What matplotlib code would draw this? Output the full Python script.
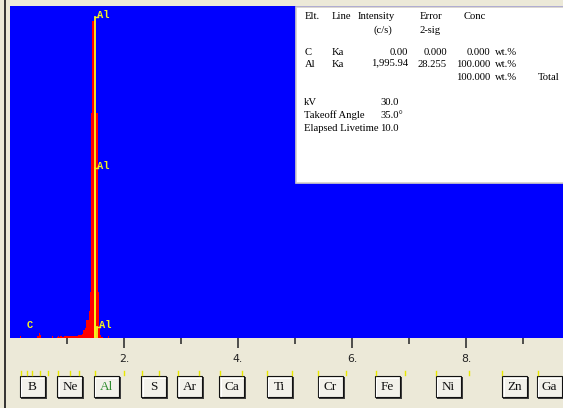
import numpy as np
import matplotlib
matplotlib.use("Agg")
import matplotlib.pyplot as plt
from matplotlib.patches import Rectangle
from matplotlib.transforms import blended_transform_factory

# spectrum channels (left edge, keV) and counts
energy = [0.18, 0.48, 0.50, 0.52, 0.74,
          0.82, 0.84, 0.86, 0.88, 0.90, 0.92, 0.94, 0.96, 0.98, 1.00,
          1.02, 1.04, 1.06, 1.08, 1.10, 1.12, 1.14, 1.16, 1.18, 1.20,
          1.22, 1.24, 1.26, 1.28, 1.30, 1.32, 1.34, 1.36, 1.38, 1.40,
          1.42, 1.44, 1.46, 1.48, 1.50, 1.52, 1.54, 1.56, 1.58, 1.60,
          1.62, 1.72]
counts = [6, 6, 15, 9, 6,
          4, 5, 4, 5, 5, 4, 5, 5, 6, 5,
          5, 6, 5, 6, 6, 5, 6, 7, 6, 8,
          9, 9, 12, 24, 24, 30, 54, 54, 80, 139,
          678, 955, 955, 955, 678, 678, 139, 30, 9, 4,
          3, 6]

# element markers
marker_keV = [1.486, 1.486, 1.52, 0.245]
marker_h = [967, 512, 33, 33]
marker_lbl = ["Al", "Al", "Al", "C"]

# result table
table_head = [("Elt.", 305, 19), ("Line", 332, 19), ("Intensity", 358, 19),
              ("Error", 420, 19), ("Conc", 464, 19),
              ("(c/s)", 373, 33), ("2-sig", 420, 33)]
rows = [["C", "Ka", "0.00", "0.000", "0.000", "wt.%", ""],
        ["Al", "Ka", "1,995.94", "28.255", "100.000", "wt.%", ""],
        ["", "", "", "", "100.000", "wt.%", "Total"]]
cond_names = ["kV", "Takeoff Angle", "Elapsed Livetime"]
cond_vals = ["30.0", "35.0\u00b0", "10.0"]

# periodic-table buttons and line ticks
buttons = ["B", "Ne", "Al", "S", "Ar", "Ca", "Ti", "Cr", "Fe", "Ni", "Zn", "Ga"]
button_keV = [0.40, 1.06, 1.70, 2.53, 3.16, 3.90, 4.73, 5.63, 6.63, 7.70, 8.86, 9.47]
line_keV = [0.19, 0.30, 0.39, 0.53, 0.67, 0.84, 1.05, 1.21, 1.49, 2.00, 2.32,
            2.61, 2.95, 3.32, 3.68, 4.07, 4.51, 4.95, 5.40, 5.89, 6.42, 6.93,
            7.47, 8.05, 8.63, 9.26]

W, H = 563, 408
bg = "#ECE9D8"
fig = plt.figure(figsize=(W / 100, H / 100), dpi=100, facecolor=bg)

ax = fig.add_axes([10 / W, (H - 338) / H, 553 / W, 332 / H], facecolor="#0000FF")
ax.bar(energy, counts, width=0.02, align="edge", color="#FF0000", linewidth=0)
ax.set_xlim(0, 553 / 57)
ax.set_ylim(0, 1000)
for s in ax.spines.values():
    s.set_visible(False)
ax.set_yticks([])
ax.set_xticks([2, 4, 6, 8])
ax.set_xticklabels(["2.", "4.", "6.", "8."])
ax.set_xticks([1, 3, 5, 7, 9], minor=True)
ax.tick_params(axis="x", which="major", length=7.5, width=1.2, color="#333333",
               pad=4, labelsize=7.8, labelcolor="#222222")
ax.tick_params(axis="x", which="minor", length=4.5, width=1.2, color="#333333")

yel = "#F4F420"
for e, h, lb in zip(marker_keV, marker_h, marker_lbl):
    if lb == "Al":
        ax.plot([e, e], [0, h], color=yel, lw=1.3, zorder=3)
        ax.plot([e, e + 0.06], [h, h], color=yel, lw=1.0, zorder=3)
    ax.text(e + 0.04, h + 5, lb, color=yel, fontsize=7.5, family="Liberation Mono",
            weight="bold", va="center", ha="left", zorder=4)

# overlay in pixel coordinates
ov = fig.add_axes([0, 0, 1, 1], zorder=5)
ov.set_xlim(0, W)
ov.set_ylim(H, 0)
ov.axis("off")
ov.patch.set_alpha(0)

ov.plot([5, 5], [0, H], color="#333333", lw=1.4)
ov.add_patch(Rectangle((296, 7), 270, 176, facecolor="white", edgecolor="#D4D0C8", lw=1.2))

tf = dict(family="Liberation Serif", fontsize=7.7, color="black", va="baseline")
for t, x, y in table_head:
    ov.text(x, y, t, ha="left", **tf)
col_x = [305, 332, 408, 447, 490, 495, 538]
col_ha = ["left", "left", "right", "right", "right", "left", "left"]
for r, y in zip(rows, [55, 67, 80]):
    for t, x, ha in zip(r, col_x, col_ha):
        dy = -1.5 if "," in t else 0
        ov.text(x, y + dy, t, ha=ha, **tf)
for n, v, y in zip(cond_names, cond_vals, [105, 118, 131]):
    ov.text(304, y, n, ha="left", **tf)
    ov.text(380, y, v, ha="left", **tf)

bt = blended_transform_factory(ax.transData, ov.transData)
for e in line_keV:
    ov.plot([e, e], [371, 375], color="#E8E800", lw=1.0, transform=bt)

for lb, e in zip(buttons, button_keV):
    x0 = 10 + 57 * e - 13
    ov.add_patch(Rectangle((x0 + 1, 377), 26, 22, facecolor="#404040", edgecolor="none"))
    ov.add_patch(Rectangle((x0, 376), 25, 21, facecolor="#F2F1EA", edgecolor="#111111", lw=0.8))
    ov.plot([x0 + 1.5, x0 + 1.5, x0 + 23.5], [395.5, 377.5, 377.5], color="white", lw=0.8)
    ov.text(x0 + 12.5, 387, lb, ha="center", va="center", family="Liberation Serif",
            fontsize=9.5, color="#2E8B2E" if lb == "Al" else "#111111")

fig.savefig("out.png", dpi=100, facecolor=bg)
